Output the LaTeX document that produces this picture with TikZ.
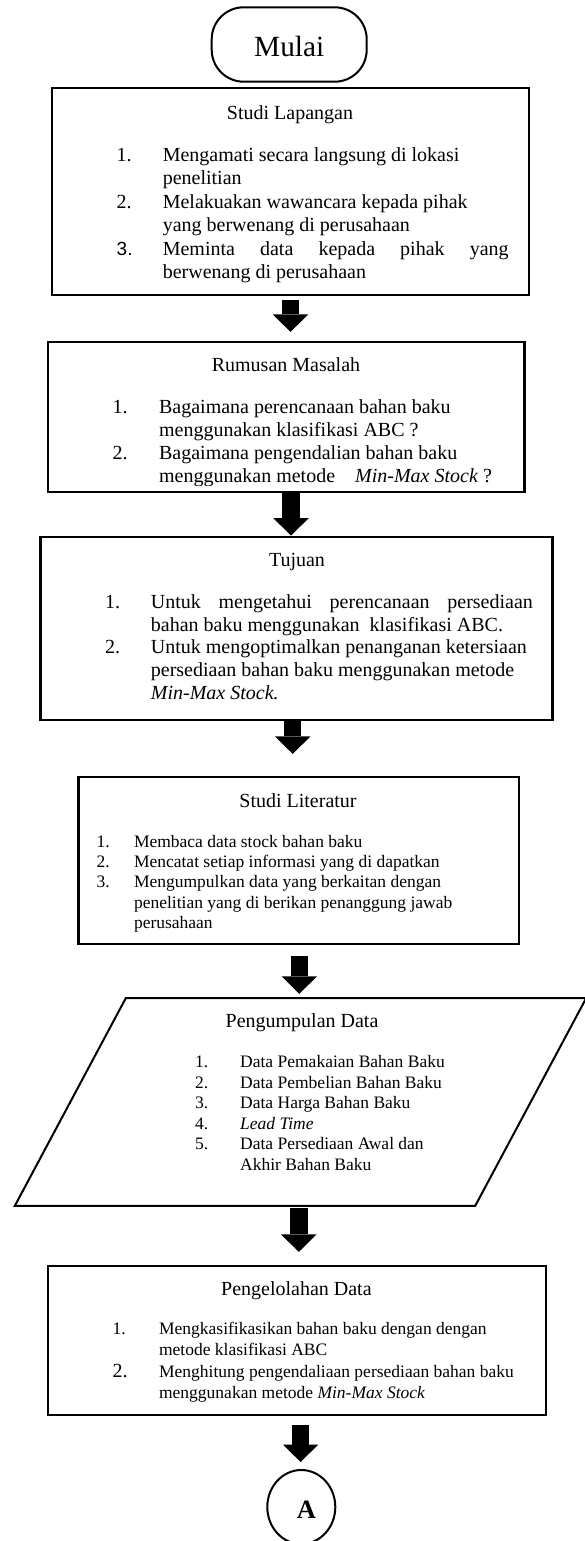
\documentclass[tikz,border=0pt]{standalone}
\usepackage{fontspec}
\setmainfont{Liberation Serif}
\newfontfamily\sansnum{Liberation Sans}
\usetikzlibrary{arrows.meta,shapes.geometric,calc}
\begin{document}
\begin{tikzpicture}[x=1pt,y=-1pt,
  box/.style={draw, line width=2.2pt, rectangle, inner sep=0pt},
  ttl/.style={font=\fontsize{20}{23}\selectfont, anchor=base, inner sep=0pt},
  big/.style={font=\fontsize{20}{23}\selectfont, anchor=base west, inner sep=0pt, align=left},
  small/.style={font=\fontsize{17.5}{20.6}\selectfont, anchor=base west, inner sep=0pt, align=left},
  smallb/.style={font=\fontsize{17.5}{21}\selectfont, anchor=base west, inner sep=0pt, align=left},
  blockarrow/.style={draw, line width=17.5pt, -{Triangle[width=35.5pt,length=17.5pt,line width=0pt]}},
]
\useasboundingbox (0,0) rectangle (585,1541);

% ---------- Mulai ----------
\node[draw, line width=2pt, rounded corners=32pt, minimum width=155pt, minimum height=74.4pt,
      inner sep=0pt, text height=24.4pt, text depth=0pt, font=\fontsize{29.3}{33}\selectfont]
      (mulai) at (289.2,44.5) {Mulai};

% ---------- Studi Lapangan ----------
% (multi-line nodes are placed at the baseline of their last line)
\node[box, minimum width=476.7pt, minimum height=206.7pt] (lap) at (290.65,191.65) {};
\node[ttl] (lapT) at (290,120) {Studi Lapangan};
\node[big] (lapN1) at (116.5,162) {1.};
\node[big] (lapI1) at (162.6,185) {Mengamati secara langsung di lokasi\\penelitian};
\node[big] (lapN2) at (116.5,208.5) {2.};
\node[big] (lapI2) at (162.6,231.5) {Melakuakan wawancara kepada pihak\\yang berwenang di perusahaan};
\node[big, font=\sansnum\fontsize{19}{23}\selectfont] (lapN3) at (116.5,255) {3.};
\node[big] (lapI3) at (162.6,278) {\makebox[345.8pt][s]{Meminta data kepada pihak yang}\\berwenang di perusahaan};

% ---------- Rumusan Masalah ----------
\node[box, minimum width=476.6pt, minimum height=150.6pt] (rum) at (286.2,417) {};
\node[ttl] (rumT) at (286,371) {Rumusan Masalah};
\node[big] (rumN1) at (112.5,413.5) {1.};
\node[big] (rumI1) at (158.9,436.5) {Bagaimana perencanaan bahan baku\\menggunakan klasifikasi ABC ?};
\node[big] (rumN2) at (112.5,459) {2.};
\begin{scope}
  \clip (0,0) rectangle (585,485.5);
  \node[big] (rumI2) at (158.9,482) {Bagaimana pengendalian bahan baku\\menggunakan metode\hspace{15pt} \textit{Min-Max Stock} ?};
\end{scope}

% ---------- Tujuan ----------
\node[box, minimum width=512.1pt, minimum height=183.3pt] (tuj) at (296.45,628.35) {};
\node[ttl] (tujT) at (297,566) {Tujuan};
\node[big] (tujN1) at (105,608) {1.};
\node[big] (tujI1) at (150.7,631) {\makebox[382pt][s]{Untuk mengetahui perencanaan persediaan}\\bahan baku menggunakan\ \ klasifikasi ABC.};
\node[big] (tujN2) at (105,653.5) {2.};
\node[big] (tujI2) at (150.7,699.5) {Untuk mengoptimalkan penanganan ketersiaan\\persediaan bahan baku menggunakan metode\\\textit{Min-Max Stock.}};

% ---------- Studi Literatur ----------
\node[box, minimum width=440.4pt, minimum height=167.3pt] (lit) at (298.7,860.35) {};
\node[ttl] (litT) at (298,807) {Studi Literatur};
\node[small] (litN1) at (96.5,847) {1.};
\node[small] (litI1) at (133.8,847) {Membaca data stock bahan baku};
\node[small] (litN2) at (96.5,867.3) {2.};
\node[small] (litI2) at (133.8,867.3) {Mencatat setiap informasi yang di dapatkan};
\node[small] (litN3) at (96.5,887.6) {3.};
\node[small] (litI3) at (133.8,928.8) {Mengumpulkan data yang berkaitan dengan\\penelitian yang di berikan penanggung jawab\\perusahaan};

% ---------- Pengumpulan Data ----------
\node[inner sep=0pt, minimum width=571pt, minimum height=207.4pt] (pgm) at (300.5,1102) {};
\draw[line width=2pt, line join=miter] (pgm.south west) -- ($(pgm.north west)+(111,0)$) -- (pgm.north east)
      -- ($(pgm.south east)+(-111,0)$) -- cycle;
\node[ttl] (pgmT) at (302,1027.5) {Pengumpulan Data};
\node[small] (pgmN1) at (195,1067.5) {1.};
\node[small] (pgmI1) at (240,1067.5) {Data Pemakaian Bahan Baku};
\node[small] (pgmN2) at (195,1088.1) {2.};
\node[small] (pgmI2) at (240,1088.1) {Data Pembelian Bahan Baku};
\node[small] (pgmN3) at (195,1108.7) {3.};
\node[small] (pgmI3) at (240,1108.7) {Data Harga Bahan Baku};
\node[small] (pgmN4) at (195,1129.3) {4.};
\node[small] (pgmI4) at (240,1129.3) {\textit{Lead Time}};
\node[small] (pgmN5) at (195,1149.9) {5.};
\node[small] (pgmI5) at (240,1170.5) {Data Persediaan Awal dan\\Akhir Bahan Baku};

% ---------- Pengelolahan Data ----------
\node[box, minimum width=497.9pt, minimum height=149pt] (olah) at (296.85,1340.5) {};
\node[ttl] (olahT) at (296.4,1295) {Pengelolahan Data};
\node[smallb] (olahN1) at (112.5,1334.5) {1.};
\node[smallb] (olahI1) at (158.9,1355.5) {Mengkasifikasikan bahan baku dengan dengan\\metode klasifikasi ABC};
\node[smallb, font=\fontsize{20}{21}\selectfont] (olahN2) at (112.5,1377.5) {2.};
\node[smallb] (olahI2) at (158.9,1398.5) {Menghitung pengendaliaan persediaan bahan baku\\menggunakan metode \textit{Min-Max Stock}};

% ---------- Connector A ----------
\node[draw, line width=2pt, ellipse, minimum width=68pt, minimum height=74pt, inner sep=0pt] (conA) at (301.3,1507) {};
\node[anchor=base, inner sep=0pt, font=\bfseries\fontsize{26.5}{30}\selectfont] (lblA) at (306.5,1518) {A};

% ---------- arrows ----------
\coordinate (ax1) at (290.5,0);
\coordinate (ax2) at (291,0);
\coordinate (ax3) at (292.7,0);
\coordinate (ax4) at (299.3,0);
\coordinate (ax5) at (298.8,0);
\coordinate (ax6) at (300.6,0);
\draw[blockarrow, shorten <=4pt, shorten >=8.7pt] (lap.south -| ax1) -- (rum.north -| ax1);
\draw[blockarrow] (rum.south -| ax2) -- (tuj.north -| ax2);
\draw[blockarrow, shorten >=21.7pt] (tuj.south -| ax3) -- (lit.north -| ax3);
\draw[blockarrow, shorten <=11pt, shorten >=4.3pt] (lit.south -| ax4) -- (pgm.north -| ax4);
\draw[blockarrow, shorten <=2.3pt, shorten >=13pt] (pgm.south -| ax5) -- (olah.north -| ax5);
\draw[blockarrow, shorten <=9pt, shorten >=7pt] (olah.south -| ax6) -- (conA.north -| ax6);
\end{tikzpicture}
\end{document}
